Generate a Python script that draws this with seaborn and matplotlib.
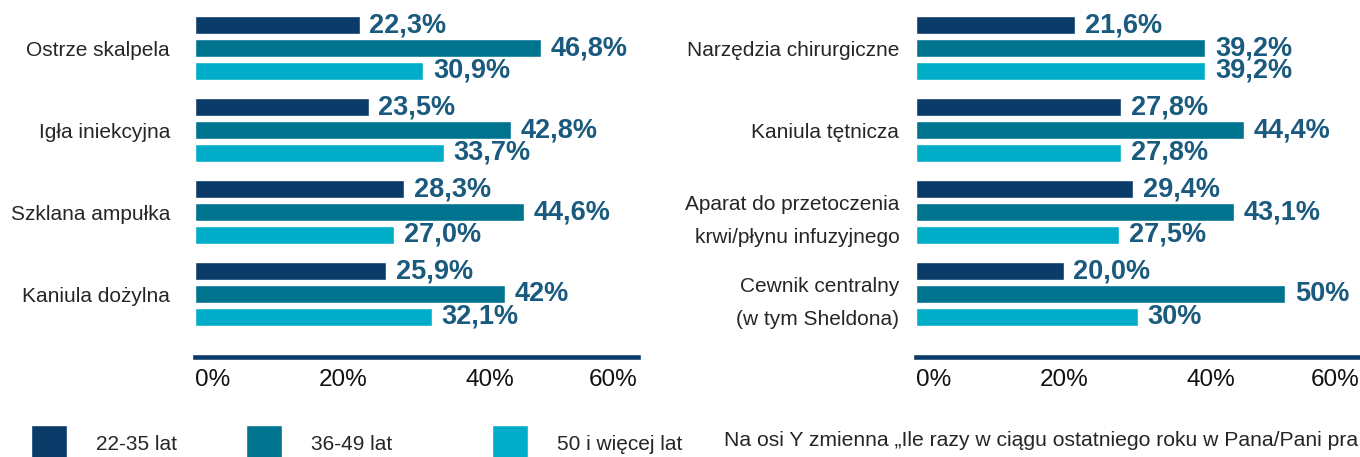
import matplotlib
matplotlib.use("Agg")
import matplotlib.pyplot as plt
import pandas as pd
import seaborn as sns

# ── data ─────────────────────────────────────────────────────────────
GROUPS = ["22-35 lat", "36-49 lat", "50 i więcej lat"]

left_categories = ["Ostrze skalpela", "Igła iniekcyjna", "Szklana ampułka", "Kaniula dożylna"]
left_22_35 = [22.3, 23.5, 28.3, 25.9]
left_36_49 = [46.8, 42.8, 44.6, 42.0]
left_50plus = [30.9, 33.7, 27.0, 32.1]
left_labels_22_35 = ["22,3%", "23,5%", "28,3%", "25,9%"]
left_labels_36_49 = ["46,8%", "42,8%", "44,6%", "42%"]
left_labels_50plus = ["30,9%", "33,7%", "27,0%", "32,1%"]

right_categories = ["Narzędzia chirurgiczne", "Kaniula tętnicza",
                    "Aparat do przetoczenia\nkrwi/płynu infuzyjnego",
                    "Cewnik centralny\n(w tym Sheldona)"]
right_22_35 = [21.6, 27.8, 29.4, 20.0]
right_36_49 = [39.2, 44.4, 43.1, 50.0]
right_50plus = [39.2, 27.8, 27.5, 30.0]
right_labels_22_35 = ["21,6%", "27,8%", "29,4%", "20,0%"]
right_labels_36_49 = ["39,2%", "44,4%", "43,1%", "50%"]
right_labels_50plus = ["39,2%", "27,8%", "27,5%", "30%"]

x_ticks = [0, 20, 40, 60]
x_tick_labels = ["0%", "20%", "40%", "60%"]

FOOTNOTE = "Na osi Y zmienna „Ile razy w ciągu ostatniego roku w Pana/Pani pra"

# ── style ────────────────────────────────────────────────────────────
COLORS = ["#0b3b68", "#00738e", "#00adc8"]
LABEL_COLOR = "#1a5a7e"
NAVY = "#0b3b68"

sns.set_theme(style="white")
plt.rcParams["font.family"] = ["Liberation Sans", "DejaVu Sans"]

W, H = 1360, 457


def to_long(categories, series):
    rows = []
    for grp, vals in zip(GROUPS, series):
        for cat, v in zip(categories, vals):
            rows.append({"category": cat, "group": grp, "value": v})
    return pd.DataFrame(rows)


def draw_panel(ax, categories, series, labels, ypad):
    df = to_long(categories, series)
    sns.barplot(data=df, x="value", y="category", hue="group", hue_order=GROUPS,
                palette=COLORS, orient="h", width=0.84, gap=0.22,
                saturation=1, errorbar=None, ax=ax, legend=True)

    for cont, lbls in zip(ax.containers, labels):
        ax.bar_label(cont, labels=lbls, padding=7, fontsize=19.5,
                     fontweight="bold", color=LABEL_COLOR)

    ax.set_xlim(0, 60)
    ax.set_ylim(3.768, -0.488)
    ax.set_xticks(x_ticks)
    ax.set_xticklabels(x_tick_labels, fontsize=17.5, color="#111111")
    ticklabels = ax.get_xticklabels()
    ticklabels[0].set_ha("left")
    ticklabels[-1].set_ha("right")
    ax.tick_params(axis="x", length=0, pad=9)
    ax.tick_params(axis="y", length=0, pad=ypad, labelsize=15, labelcolor="#262626")
    for lbl in ax.get_yticklabels():
        lbl.set_linespacing(1.9)
    ax.set_xlabel("")
    ax.set_ylabel("")
    for side in ["top", "right", "left"]:
        ax.spines[side].set_visible(False)
    ax.spines["bottom"].set_color(NAVY)
    ax.spines["bottom"].set_linewidth(3.3)


fig = plt.figure(figsize=(W / 100, H / 100), dpi=100)

ax_h = 349 / H
ax_b = 1 - 357 / H
ax_left = fig.add_axes([195 / W, ax_b, 443 / W, ax_h])
ax_right = fig.add_axes([916 / W, ax_b, 443 / W, ax_h])

draw_panel(ax_left, left_categories,
           [left_22_35, left_36_49, left_50plus],
           [left_labels_22_35, left_labels_36_49, left_labels_50plus], ypad=18)
draw_panel(ax_right, right_categories,
           [right_22_35, right_36_49, right_50plus],
           [right_labels_22_35, right_labels_36_49, right_labels_50plus], ypad=12)

# legend: one entry per block, spaced like the original
handles, labs = ax_left.get_legend_handles_labels()
ax_left.get_legend().remove()
ax_right.get_legend().remove()
legend_x = [31, 246, 492]
for h, l, x in zip(handles, labs, legend_x):
    fig.legend([h], [l], loc="center left", bbox_to_anchor=(x / W, 1 - 444 / H),
               frameon=False, fontsize=15, handlelength=1.73, handleheight=2.45,
               handletextpad=1.4, borderpad=0, borderaxespad=0,
               labelcolor="#262626")

fig.text(724 / W, 1 - 441 / H, FOOTNOTE, fontsize=15.2, color="#262626",
         ha="left", va="center")

fig.savefig("out.png", dpi=100)
